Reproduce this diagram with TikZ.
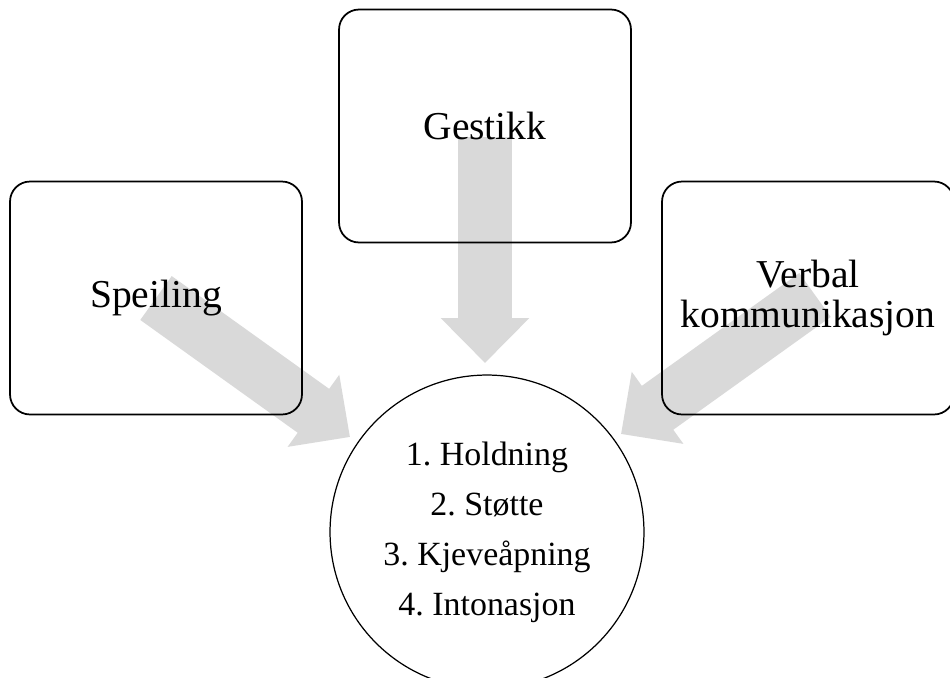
\documentclass[tikz,border=0pt]{standalone}
\usepackage{fontspec}
\setmainfont{Liberation Serif}
\usetikzlibrary{arrows.meta, backgrounds}
\frenchspacing

\begin{document}
\begin{tikzpicture}[x=0.02cm, y=-0.02cm,
  box/.style={draw=black, line width=1pt, rounded corners=0.4cm,
              minimum width=5.84cm, minimum height=4.66cm, align=center,
              font=\fontsize{22.5}{23}\selectfont},
  hub/.style={circle, draw=black, line width=0.7pt, fill=white,
              minimum size=6.28cm, align=center,
              font=\fontsize{19.3}{28.5}\selectfont},
  flow/.style={draw=gray!30, line width=1.08cm,
               -{Triangle[width=1.72cm, length=0.9cm]}},
]
\useasboundingbox (0,0) rectangle (950,677);
\clip (0,0) rectangle (950,677);

\node[box] (speil) at (156,298) {Speiling};
\node[box] (gest) at (485,126) {Gestikk};
\node[box] (verbal) at (808,298) {Verbal\\kommunikasjon};

\node[hub] (hub) at (487,532) {1. Holdning\\2. Støtte\\3. Kjeveåpning\\4. Intonasjon};

% grey arrows behind the boxes
\begin{scope}[on background layer]
  \coordinate (tipL) at (350,437);
  \coordinate (tipM) at (485,363);
  \coordinate (tipR) at (621,434);
  \draw[flow] (speil.center) -- (tipL);
  \draw[flow, shorten <=6pt] (gest.center) -- (tipM);
  \draw[flow] ([xshift=0.14cm,yshift=0.06cm]verbal.center) -- (tipR);
\end{scope}
\end{tikzpicture}
\end{document}
